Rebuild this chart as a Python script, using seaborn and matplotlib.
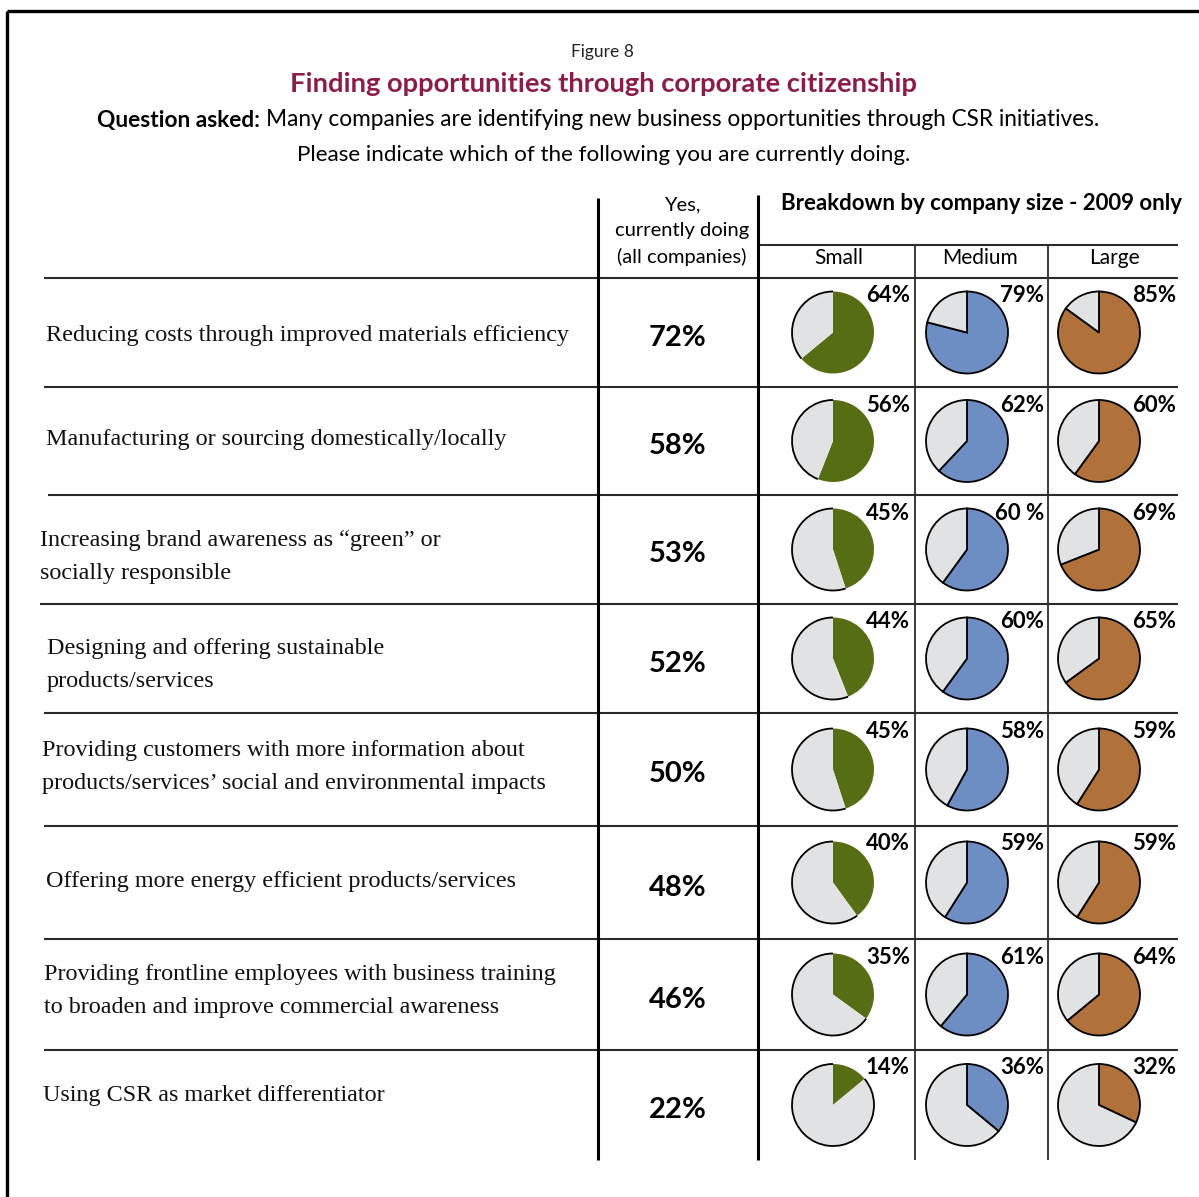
import matplotlib
matplotlib.use("Agg")
import matplotlib.pyplot as plt
from matplotlib.patches import Arc
import seaborn as sns

# ---- data -------------------------------------------------------------
activities = [
    "Reducing costs through improved materials efficiency",
    "Manufacturing or sourcing domestically/locally",
    "Increasing brand awareness as \u201cgreen\u201d or\nsocially responsible",
    "Designing and offering sustainable\nproducts/services",
    "Providing customers with more information about\nproducts/services\u2019 social and environmental impacts",
    "Offering more energy efficient products/services",
    "Providing frontline employees with business training\nto broaden and improve commercial awareness",
    "Using CSR as market differentiator",
]
all_companies = [72, 58, 53, 52, 50, 48, 46, 22]
small = [64, 56, 45, 44, 45, 40, 35, 14]
medium = [79, 62, 60, 60, 58, 59, 61, 36]
large = [85, 60, 69, 65, 59, 59, 64, 32]
medium_labels = ["79%", "62%", "60 %", "60%", "58%", "59%", "61%", "36%"]
sizes = ["Small", "Medium", "Large"]

# ---- styling ----------------------------------------------------------
sns.set_theme(style="white")
SANS = ["Lato", "DejaVu Sans"]
SERIF = ["Liberation Serif", "DejaVu Serif"]
plt.rcParams["font.family"] = SANS

palette = sns.color_palette(["#566d14", "#6e8dc3", "#b0713b"])
REST = "#e1e2e4"
TITLE = "#8a1d4a"
LINE = "#2b2b2b"

W, H = 1199, 1197
fig = plt.figure(figsize=(W / 100, H / 100), dpi=100)
ax = fig.add_axes([0, 0, 1, 1])


def Y(p):
    return H - p


# outer frame
ax.plot([7, 7], [Y(11), Y(H + 5)], color="black", lw=2.4, solid_capstyle="butt")
ax.plot([7, W + 5], [Y(11), Y(11)], color="black", lw=2.4, solid_capstyle="butt")

# headings
ax.text(602, Y(52), "Figure 8", ha="center", va="center", fontsize=12.5, color="#222222")
ax.text(604, Y(84), "Finding opportunities through corporate citizenship",
        ha="center", va="center", fontsize=19.7, fontweight="bold", color=TITLE)
ax.text(260, Y(120), "Question asked:", ha="right", va="center",
        fontsize=16.3, fontweight="bold", color="black")
ax.text(266, Y(120), "Many companies are identifying new business opportunities through CSR initiatives.",
        ha="left", va="center", fontsize=16.3, color="black")
ax.text(604, Y(155), "Please indicate which of the following you are currently doing.",
        ha="center", va="center", fontsize=16.1, color="black")

# column headers
ax.text(682, Y(231), "Yes,\ncurrently doing\n(all companies)", ha="center", va="center",
        fontsize=14.5, linespacing=1.6, color="black")
ax.text(1182, Y(204), "Breakdown by company size - 2009 only", ha="right", va="center",
        fontsize=16, fontweight="bold", color="black")
col_centers = [839, 980, 1114]
for name, cx in zip(sizes, col_centers):
    ax.text(cx, Y(258), name, ha="center", va="center", fontsize=15, color="black")

# table rules
row_tops = [278, 387, 495, 604, 713, 826, 939, 1050]
row_left = [44, 44, 48, 40, 44, 44, 44, 44]
table_bottom = 1160
for yt, xl in zip(row_tops, row_left):
    ax.plot([xl, 1178], [Y(yt), Y(yt)], color=LINE, lw=1.5, solid_capstyle="butt")
ax.plot([758, 1178], [Y(245), Y(245)], color=LINE, lw=1.5, solid_capstyle="butt")
ax.plot([598, 598], [Y(198), Y(table_bottom)], color="black", lw=2.2, solid_capstyle="butt")
ax.plot([758, 758], [Y(195), Y(table_bottom)], color="black", lw=2.2, solid_capstyle="butt")
for xv in (915, 1048):
    ax.plot([xv, xv], [Y(245), Y(table_bottom)], color=LINE, lw=1.3, solid_capstyle="butt")

row_bottoms = row_tops[1:] + [table_bottom]
label_x = [46, 46, 40, 47, 42, 46, 44, 43]
label_y = [335, 439, 557, 665, 767, 881, 991, 1096]
pie_x = [833, 967, 1099]
pct_right = [910, 1044, 1176]
R = 41

for i, (act, tot) in enumerate(zip(activities, all_companies)):
    top, bot = row_tops[i], row_bottoms[i]
    mid = (top + bot) / 2
    ax.text(label_x[i], Y(label_y[i]), act, ha="left", va="center", family=SERIF,
            fontsize=17.4, linespacing=1.8, color="#111111")
    ax.text(678, Y(mid + 5), f"{tot}%", ha="center", va="center",
            fontsize=21, fontweight="bold", color="black")

    values = [small[i], medium[i], large[i]]
    texts = [f"{small[i]}%", medium_labels[i], f"{large[i]}%"]
    for j, (v, t) in enumerate(zip(values, texts)):
        cx, cy = pie_x[j], Y(mid)
        if j == 0:
            wedges, _ = ax.pie([v, 100 - v], colors=[palette[0], REST], startangle=90,
                               counterclock=False, center=(cx, cy), radius=R, frame=True,
                               wedgeprops=dict(linewidth=0))
            g = wedges[1]
            ax.add_patch(Arc((cx, cy), 2 * R, 2 * R, theta1=g.theta1, theta2=g.theta2,
                             color="black", lw=1.3))
        else:
            ax.pie([v, 100 - v], colors=[palette[j], REST], startangle=90,
                   counterclock=False, center=(cx, cy), radius=R, frame=True,
                   wedgeprops=dict(edgecolor="black", linewidth=1.3))
        ax.text(pct_right[j], Y(top + 18), t, ha="right", va="center",
                fontsize=16, fontweight="bold", color="black")

ax.set_xlim(0, W)
ax.set_ylim(0, H)
ax.set_aspect("equal")
ax.axis("off")
fig.savefig("out.png", dpi=100, facecolor="white")
